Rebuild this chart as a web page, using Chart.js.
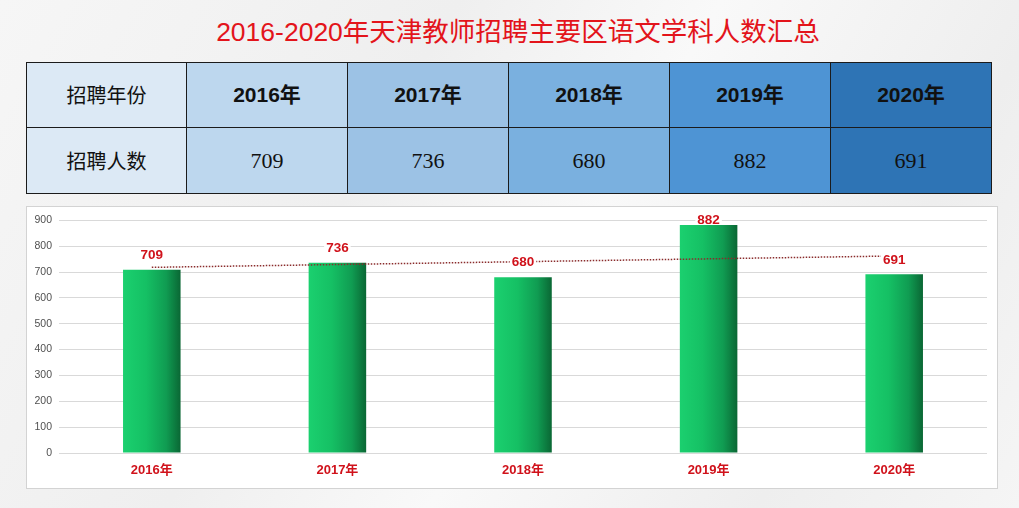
<!DOCTYPE html>
<html>
<head>
<meta charset="utf-8">
<script src="https://cdn.jsdelivr.net/npm/chart.js@4/dist/chart.umd.min.js"></script>
<style>
  html, body { margin: 0; padding: 0; }
  body {
    width: 1019px; height: 508px; position: relative; overflow: hidden;
    background: linear-gradient(120deg, #f6f6f6 0%, #efefef 35%, #f9f9f9 55%, #eeeeee 80%, #f5f5f5 100%);
    font-family: "Liberation Sans", Arial, "Noto Sans CJK SC", sans-serif;
  }
  #title {
    position: absolute; left: 0; top: 14px; width: 1036px; text-align: center;
    font-size: 26.5px; color: #e3141b; line-height: 36px;
    font-family: "Liberation Sans", Arial, "Noto Sans CJK SC", sans-serif;
  }
  table {
    position: absolute; left: 26px; top: 62px; border-collapse: collapse;
    table-layout: fixed;
  }
  td {
    border: 1.5px solid #1b1b1b; padding: 0; text-align: center;
    font-size: 21px; color: #111; line-height: 24px;
  }
  tr.r1 td { height: 64px; }
  tr.r2 td { height: 65px; }
  td.h { font-family: "Noto Sans CJK SC", serif; font-size: 20px; background: #dce9f5; width: 159px; }
  tr.r1 td.y { font-weight: bold; font-family: "Liberation Sans", Arial, "Noto Sans CJK SC", sans-serif; }
  tr.r2 td.y { font-family: "Liberation Serif", "Times New Roman", serif; font-size: 22px; }
  td.c0 { background: #bdd7ee; width: 160px; }
  td.c1 { background: #9cc2e5; width: 160px; }
  td.c2 { background: #7ab0df; width: 160px; }
  td.c3 { background: #4e94d4; width: 160px; }
  td.c4 { background: #2e74b5; width: 160px; }
  #box {
    position: absolute; left: 26px; top: 206px; width: 970px; height: 281px;
    background: #ffffff; border: 1px solid #d3d3d3;
  }
  #cv { position: absolute; left: 0; top: 0; }
</style>
</head>
<body>
<div id="title">2016-2020年天津教师招聘主要区语文学科人数汇总</div>
<table id="tbl"></table>
<div id="box"><canvas id="cv" width="970" height="281"></canvas></div>
<script>
const rowHeaders = ["招聘年份", "招聘人数"];
const categories = ["2016年", "2017年", "2018年", "2019年", "2020年"];
const values = [709, 736, 680, 882, 691];
const trendValues = [718, null, null, null, 762];
const yTicks = [0, 100, 200, 300, 400, 500, 600, 700, 800, 900];

// table
const tbl = document.getElementById('tbl');
const r1 = document.createElement('tr'); r1.className = 'r1';
const r2 = document.createElement('tr'); r2.className = 'r2';
[[r1, rowHeaders[0], categories], [r2, rowHeaders[1], values]].forEach(([tr, h, arr]) => {
  const th = document.createElement('td'); th.className = 'h'; th.textContent = h; tr.appendChild(th);
  arr.forEach((v, i) => { const td = document.createElement('td'); td.className = 'y c' + i; td.textContent = v; tr.appendChild(td); });
  tbl.appendChild(tr);
});

const BAR_PCT = 0.31;

const labelPlugin = {
  id: 'valueLabels',
  afterDatasetsDraw(chart) {
    const meta = chart.getDatasetMeta(1);
    const ctx = chart.ctx;
    ctx.save();
    ctx.font = 'bold 13.5px "Liberation Sans", Arial, sans-serif';
    ctx.textAlign = 'center';
    ctx.textBaseline = 'middle';
    meta.data.forEach((el, i) => {
      const y = Math.max(el.y - 15, chart.chartArea.top - 1);
      const txt = String(values[i]);
      const w = ctx.measureText(txt).width;
      ctx.fillStyle = '#ffffff';
      ctx.fillRect(el.x - w / 2 - 2, y - 6, w + 4, Math.min(12, el.y - (y - 6) - 1));
      ctx.fillStyle = '#d0121b';
      ctx.fillText(txt, el.x, y + 0.5);
    });
    ctx.restore();
  }
};

new Chart(document.getElementById('cv'), {
  data: {
    labels: categories,
    datasets: [
      {
        type: 'line',
        data: trendValues,
        spanGaps: true,
        borderColor: '#8a2c2c',
        borderWidth: 1.5,
        borderDash: [1.5, 1.5],
        pointRadius: 0,
        order: 0
      },
      {
        type: 'bar',
        data: values,
        barPercentage: BAR_PCT,
        categoryPercentage: 1,
        order: 1,
        backgroundColor: (c) => {
          const chart = c.chart;
          const xs = chart.scales && chart.scales.x;
          if (!xs || c.dataIndex == null || !xs.width) return '#14bf63';
          const cx = xs.getPixelForValue(c.dataIndex);
          const w = xs.width / categories.length * BAR_PCT;
          const g = chart.ctx.createLinearGradient(cx - w / 2, 0, cx + w / 2, 0);
          g.addColorStop(0, '#1bd06f');
          g.addColorStop(0.4, '#15c064');
          g.addColorStop(0.75, '#109c52');
          g.addColorStop(1, '#0a6734');
          return g;
        }
      }
    ]
  },
  options: {
    responsive: false,
    animation: false,
    layout: { padding: { top: 11, right: 10, left: 0, bottom: 0 } },
    plugins: { legend: { display: false }, tooltip: { enabled: false } },
    scales: {
      x: {
        grid: { display: false, drawTicks: false },
        border: { display: false },
        ticks: {
          color: '#d0121b',
          font: { size: 13, weight: 'bold', family: '"Liberation Sans", Arial, "Noto Sans CJK SC", sans-serif' },
          padding: 10
        },
        afterFit: (s) => { s.height = 35; }
      },
      y: {
        min: 0, max: 900,
        afterBuildTicks: (s) => { s.ticks = yTicks.map(v => ({ value: v })); },
        grid: { color: '#d9d9d9', lineWidth: 1, drawTicks: false },
        border: { display: false },
        ticks: {
          color: '#505050',
          font: { size: 10.5, family: '"Liberation Sans", Arial, sans-serif' },
          padding: 7
        },
        afterFit: (s) => { s.width = 32; }
      }
    }
  },
  plugins: [labelPlugin]
});
</script>
</body>
</html>
